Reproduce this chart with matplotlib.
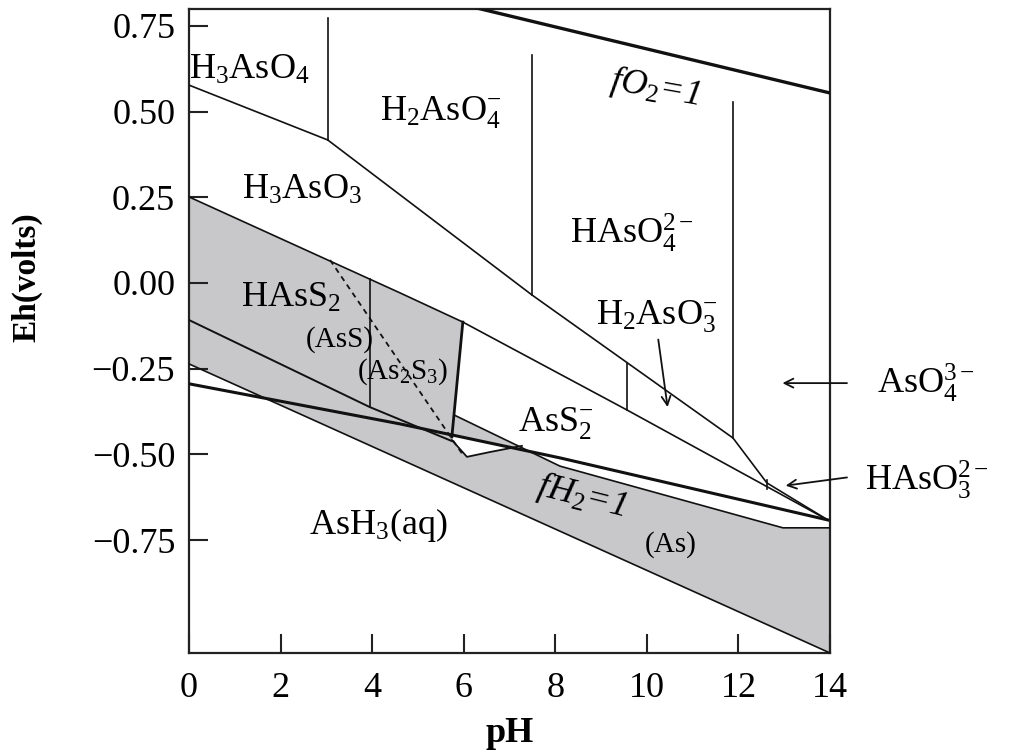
import numpy as np
import matplotlib
matplotlib.use("Agg")
from matplotlib import pyplot as plt

plt.rcParams['font.family'] = ['Liberation Serif', 'DejaVu Serif']
plt.rcParams['mathtext.fontset'] = 'custom'
plt.rcParams['mathtext.rm'] = 'Liberation Serif'
plt.rcParams['mathtext.it'] = 'Liberation Serif:italic'
plt.rcParams['mathtext.bf'] = 'Liberation Serif:bold'

# boundaries (pH, Eh in volts)
fo2_ph, fo2_eh = [6.0, 14.0], [0.811, 0.554]
top_ph = [0.0, 3.03, 7.49, 11.88, 12.62, 13.95]
top_eh = [0.577, 0.417, -0.035, -0.452, -0.583, -0.691]
a_ph = [0.0, 4.61, 5.98, 9.56, 13.95]
a_eh = [0.251, -0.029, -0.114, -0.370, -0.691]
b_ph = [0.0, 3.95, 5.74]
b_eh = [-0.108, -0.362, -0.461]
c_ph = [0.0, 14.0]
c_eh = [-0.236, -1.079]
d_ph = [0.0, 4.61, 8.10, 13.95]
d_eh = [-0.294, -0.411, -0.510, -0.691]
e_ph = [5.79, 8.10, 12.97, 14.0]
e_eh = [-0.385, -0.534, -0.714, -0.714]
v6_ph, v6_eh = [5.98, 5.74], [-0.114, -0.449]
dash_ph, dash_eh = [3.08, 5.98], [0.067, -0.501]
patch_ph = [5.74, 6.07, 6.57, 7.27]
patch_eh = [-0.458, -0.507, -0.493, -0.475]
# vertical boundaries: pH, Eh bottom, Eh top
verticals = [(3.03, 0.417, 0.773), (7.49, -0.035, 0.665), (11.88, -0.452, 0.528),
             (9.56, -0.232, -0.370), (3.95, 0.011, -0.362), (12.62, -0.575, -0.600)]

fig = plt.figure(figsize=(10.24, 7.55), dpi=100)
ax = fig.add_axes([0.1846, 0.1351, 0.626, 0.8530])
ax.set_xlim(0, 14)
ax.set_ylim(-1.079, 0.799)

grey = '#c8c8ca'
# shaded sulfide / native As field
poly_x = np.concatenate([a_ph[:3], [5.79], e_ph[1:], [14.0], c_ph[::-1]])
poly_y = np.concatenate([a_eh[:3], [-0.385], e_eh[1:], [-1.079], c_eh[::-1]])
ax.fill(poly_x, poly_y, color=grey, lw=0, zorder=1)
# small white pocket under the thick line
d_top = np.interp(patch_ph, d_ph, d_eh)
ax.fill(np.concatenate([patch_ph, patch_ph[::-1]]), np.concatenate([patch_eh, d_top[::-1]]),
        color='white', lw=0, zorder=1.5)

k = '#111111'
ax.plot(fo2_ph, fo2_eh, color=k, lw=2.4, zorder=3)
ax.plot(top_ph, top_eh, color=k, lw=1.2, zorder=3)
ax.plot(a_ph, a_eh, color=k, lw=1.2, zorder=3)
ax.plot(b_ph, b_eh, color=k, lw=1.4, zorder=3)
ax.plot(c_ph, c_eh, color=k, lw=1.2, zorder=3)
ax.plot(d_ph, d_eh, color=k, lw=2.2, zorder=3)
ax.plot(e_ph, e_eh, color=k, lw=1.2, zorder=3)
ax.plot(v6_ph, v6_eh, color=k, lw=2.0, zorder=3)
ax.plot(patch_ph, patch_eh, color=k, lw=1.3, zorder=3)
ax.plot(dash_ph, dash_eh, color=k, lw=1.3, ls=(0, (3, 2.5)), zorder=3)
for x, y0, y1 in verticals:
    ax.plot([x, x], [y0, y1], color=k, lw=1.2, zorder=3)

fs = 26
sm = 21
ax.text(0.0, 0.62, r'H$_\mathrm{3}$AsO$_\mathrm{4}$', fontsize=fs, ha='left', va='center')
ax.text(5.5, 0.496, r'H$_\mathrm{2}$AsO$_\mathrm{4}^{-}$', fontsize=fs, ha='center', va='center')
ax.text(10.17, 0.568, r'fO$_\mathit{2}$=1', fontsize=fs, style='italic', ha='center', va='center', rotation=-10)
ax.text(9.67, 0.146, r'HAsO$_\mathrm{4}^{2-}$', fontsize=fs, ha='center', va='center')
ax.text(2.47, 0.271, r'H$_\mathrm{3}$AsO$_\mathrm{3}$', fontsize=fs, ha='center', va='center')
ax.text(2.23, -0.045, r'HAsS$_\mathrm{2}$', fontsize=fs, ha='center', va='center')
ax.text(3.3, -0.166, '(AsS)', fontsize=sm, ha='center', va='center')
ax.text(4.67, -0.26, r'(As$_\mathrm{2}$S$_\mathrm{3}$)', fontsize=sm, ha='center', va='center')
ax.text(8.0, -0.41, r'AsS$_\mathrm{2}^{-}$', fontsize=fs, ha='center', va='center')
ax.text(10.22, -0.099, r'H$_\mathrm{2}$AsO$_\mathrm{3}^{-}$', fontsize=fs, ha='center', va='center')
ax.text(4.13, -0.706, r'AsH$_\mathrm{3}$(aq)', fontsize=fs, ha='center', va='center')
ax.text(8.58, -0.624, r'fH$_\mathit{2}$=1', fontsize=fs, style='italic', ha='center', va='center', rotation=-14)
ax.text(10.52, -0.764, '(As)', fontsize=sm, ha='center', va='center')
ax.text(15.02, -0.292, r'AsO$_\mathrm{4}^{3-}$', fontsize=fs, ha='left', va='center')
ax.text(14.76, -0.574, r'HAsO$_\mathrm{3}^{2-}$', fontsize=fs, ha='left', va='center')

arr = dict(arrowstyle='->', color=k, lw=1.3, mutation_scale=16)
ax.annotate('', xy=(10.46, -0.370), xytext=(10.24, -0.157), arrowprops=arr, annotation_clip=False)
ax.annotate('', xy=(12.90, -0.292), xytext=(14.43, -0.292), arrowprops=arr, annotation_clip=False)
ax.annotate('', xy=(12.97, -0.592), xytext=(14.43, -0.566), arrowprops=arr, annotation_clip=False)

ax.set_xticks(range(0, 15, 2))
ax.set_yticks([0.75, 0.5, 0.25, 0.0, -0.25, -0.5, -0.75])
ax.set_yticklabels(['0.75', '0.50', '0.25', '0.00', '\u22120.25', '\u22120.50', '\u22120.75'])
ax.tick_params(direction='in', length=14, width=1.5, labelsize=26, color='#222222')
ax.tick_params(axis='x', pad=14)
ax.tick_params(axis='y', pad=10)
for s in ax.spines.values():
    s.set_linewidth(1.6)
    s.set_color('#222222')

ax.set_xlabel('pH', fontsize=26, fontweight='bold', labelpad=8)
ax.set_ylabel('Eh(volts)', fontsize=24, fontweight='bold')
ax.yaxis.set_label_coords(-0.228, 0.584)

fig.savefig('out.png', dpi=100)
